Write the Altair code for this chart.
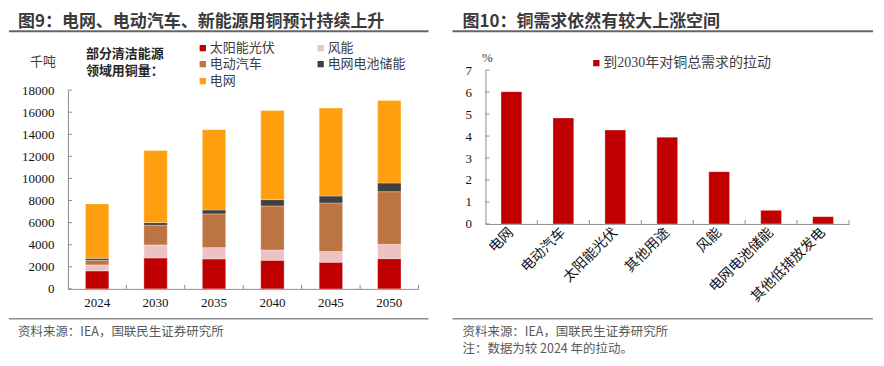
import altair as alt
import pandas as pd

# ---------------- data ----------------
years = ["2024", "2030", "2035", "2040", "2045", "2050"]
series = ["太阳能光伏", "风能", "电动汽车", "电网电池储能", "电网"]
solar = [1630, 2800, 2710, 2590, 2410, 2740]
wind = [540, 1180, 1030, 940, 970, 1300]
ev = [420, 1780, 3050, 3980, 4400, 4760]
battery = [180, 240, 360, 570, 630, 790]
grid = [4920, 6540, 7270, 8080, 7960, 7480]
series_colors = ["#C00000", "#EDC2C2", "#BC7443", "#404040", "#FF9E0E"]
y_ticks_left = [0, 2000, 4000, 6000, 8000, 10000, 12000, 14000, 16000, 18000]

cats = ["电网", "电动汽车", "太阳能光伏", "其他用途", "风能", "电网电池储能", "其他低排放发电"]
pull = [6.02, 4.82, 4.27, 3.95, 2.38, 0.62, 0.33]
y_ticks_right = [0, 1, 2, 3, 4, 5, 6, 7]

title_left = "图9：电网、电动汽车、新能源用铜预计持续上升"
title_right = "图10：铜需求依然有较大上涨空间"
source = "资料来源：IEA，国联民生证券研究所"
note = "注：数据为较 2024 年的拉动。"
unit_left = "千吨"
unit_right = "%"
legend_title = "部分清洁能源\n领域用铜量："
legend_right = "到2030年对铜总需求的拉动"

# ---------------- style ----------------
W1, H1 = 351, 219
W2, H2 = 364, 154
SERIF = "Times New Roman, Liberation Serif, Noto Sans CJK SC"
SANS = "Noto Sans CJK SC"
AX = "#8C8C8C"
TXT = "#404040"


def label(text, x, y, size, font=SANS, weight="normal", color=TXT, align="left", line_height=None):
    kw = {}
    if line_height is not None:
        kw = {"lineBreak": "\n", "lineHeight": line_height}
    return alt.Chart(pd.DataFrame({"t": [text]})).mark_text(
        align=align, baseline="middle", font=font, fontSize=size,
        fontWeight=weight, color=color, **kw
    ).encode(text="t:N", x=alt.value(x), y=alt.value(y))


def hline(x1, x2, y, color, width):
    return alt.Chart(pd.DataFrame({"a": [0]})).mark_rule(
        color=color, strokeWidth=width
    ).encode(x=alt.value(x1), x2=alt.value(x2), y=alt.value(y))


def square(x, y, color):
    return alt.Chart(pd.DataFrame({"a": [0]})).mark_square(
        size=40, color=color, opacity=1
    ).encode(x=alt.value(x), y=alt.value(y))


# ---------------- left panel ----------------
rows = []
for i, (s, vals) in enumerate(zip(series, [solar, wind, ev, battery, grid])):
    for y, v in zip(years, vals):
        rows.append({"year": y, "series": s, "order": i, "value": v})
df1 = pd.DataFrame(rows)

xs1 = alt.Scale(domain=years, paddingInner=0, paddingOuter=0)
ys1 = alt.Scale(domain=[0, 18000], range=[H1, 20], nice=False)
xa1 = alt.Axis(title=None, labelAngle=0, ticks=False, domainColor=AX,
               labelFont=SERIF, labelFontSize=13, labelColor="#111", labelPadding=8)
ya1 = alt.Axis(title=None, values=y_ticks_left, format="d", ticks=False, grid=False,
               domainColor=AX, labelFont=SERIF, labelFontSize=13, labelColor="#111",
               labelPadding=14)

bars1 = alt.Chart(df1).mark_bar(width={"band": 0.4}, stroke="#FFFFFF", strokeWidth=0.5,
                                strokeOpacity=0.6).encode(
    x=alt.X("year:N", scale=xs1, axis=xa1),
    y=alt.Y("value:Q", stack="zero", scale=ys1, axis=ya1),
    color=alt.Color("series:N", scale=alt.Scale(domain=series, range=series_colors), legend=None),
    order=alt.Order("order:Q", sort="ascending"),
)

ytick1 = alt.Chart(pd.DataFrame({"v": y_ticks_left})).mark_rule(color=AX).encode(
    y=alt.Y("v:Q", scale=ys1, axis=ya1), x=alt.value(0), x2=alt.value(4))
xtick1 = alt.Chart(pd.DataFrame({"year": years[1:]})).mark_rule(color=AX).encode(
    x=alt.X("year:N", scale=xs1, bandPosition=0, axis=xa1),
    y=alt.value(H1 - 4), y2=alt.value(H1))
xtick1_end = alt.Chart(pd.DataFrame({"year": years[-1:]})).mark_rule(color=AX).encode(
    x=alt.X("year:N", scale=xs1, bandPosition=1, axis=xa1),
    y=alt.value(H1 - 4), y2=alt.value(H1))

bounds_rule = alt.Chart(pd.DataFrame({"a": [0]})).mark_rule(opacity=0, strokeOpacity=0).encode(
    x=alt.value(-59), x2=alt.value(809), y=alt.value(-62), y2=alt.value(288))

legend_pos = {  # (x of square, y)
    "太阳能光伏": (135, -22), "风能": (253, -22),
    "电动汽车": (135, -6), "电网电池储能": (253, -6),
    "电网": (135, 11),
}
legend_layers = []
for s, c in zip(series, series_colors):
    lx, ly = legend_pos[s]
    legend_layers.append(square(lx, ly, c))
    legend_layers.append(label(s, lx + 7, ly, 13, font=SERIF, color="#404040"))

left = alt.layer(
    bounds_rule,
    bars1, ytick1, xtick1, xtick1_end,
    label(title_left, -50, -48, 17, weight="bold", color="#3A3A3A"),
    hline(-59, 361, -39, "#666666", 2),
    hline(-59, 361, 249, "#8C8C8C", 1.5),
    label(source, -50, 262, 12.5, color="#595959"),
    label(unit_left, -25, -8, 13, font=SERIF, color="#404040", align="center"),
    label(legend_title, 18, -16, 13, weight="bold", color="#262626", line_height=17),
    *legend_layers,
).properties(width=W1, height=H1)

# ---------------- right panel ----------------
df2 = pd.DataFrame({"cat": cats, "v": pull})
xs2 = alt.Scale(domain=cats, paddingInner=0, paddingOuter=0)
ys2 = alt.Scale(domain=[0, 7], nice=False)
xa2 = alt.Axis(title=None, labelAngle=-45, labelAlign="right", labelBaseline="middle",
               ticks=False, domainColor=AX, labelFont=SERIF, labelFontSize=14,
               labelColor="#111", labelPadding=6)
ya2 = alt.Axis(title=None, values=y_ticks_right, format="d", ticks=False, grid=False,
               domainColor=AX, labelFont=SERIF, labelFontSize=13, labelColor="#111",
               labelPadding=14)

bars2 = alt.Chart(df2).mark_bar(color="#C00000", width={"band": 0.4}, stroke="#FFFFFF",
                                strokeWidth=0.5, strokeOpacity=0.6).encode(
    x=alt.X("cat:N", scale=xs2, axis=xa2),
    y=alt.Y("v:Q", scale=ys2, axis=ya2),
)
ytick2 = alt.Chart(pd.DataFrame({"v": y_ticks_right})).mark_rule(color=AX).encode(
    y=alt.Y("v:Q", scale=ys2, axis=ya2), x=alt.value(0), x2=alt.value(4))
xtick2 = alt.Chart(pd.DataFrame({"cat": cats[1:]})).mark_rule(color=AX).encode(
    x=alt.X("cat:N", scale=xs2, bandPosition=0, axis=xa2),
    y=alt.value(H2 - 4), y2=alt.value(H2))
xtick2_end = alt.Chart(pd.DataFrame({"cat": cats[-1:]})).mark_rule(color=AX).encode(
    x=alt.X("cat:N", scale=xs2, bandPosition=1, axis=xa2),
    y=alt.value(H2 - 4), y2=alt.value(H2))

right = alt.layer(
    bars2, ytick2, xtick2, xtick2_end,
    label(title_right, -23, -48, 17, weight="bold", color="#3A3A3A"),
    hline(-33, 388, -39, "#666666", 2),
    hline(-33, 388, 249, "#8C8C8C", 1.5),
    label(source, -23, 262, 12.5, color="#595959"),
    label(note, -23, 279, 12.5, color="#595959"),
    label(unit_right, 2, -12, 13, font=SERIF, color="#404040", align="center"),
    square(111, -7, "#C00000"),
    label(legend_right, 118, -7, 14, font=SERIF, color="#404040"),
).properties(width=W2, height=H2)

chart = alt.hconcat(
    left, right, spacing=67, bounds="flush", padding=0,
    autosize=alt.AutoSizeParams(type="pad"),
).configure_view(stroke=None)

chart.save("out.html", embed_options={"renderer": "svg", "actions": False})
